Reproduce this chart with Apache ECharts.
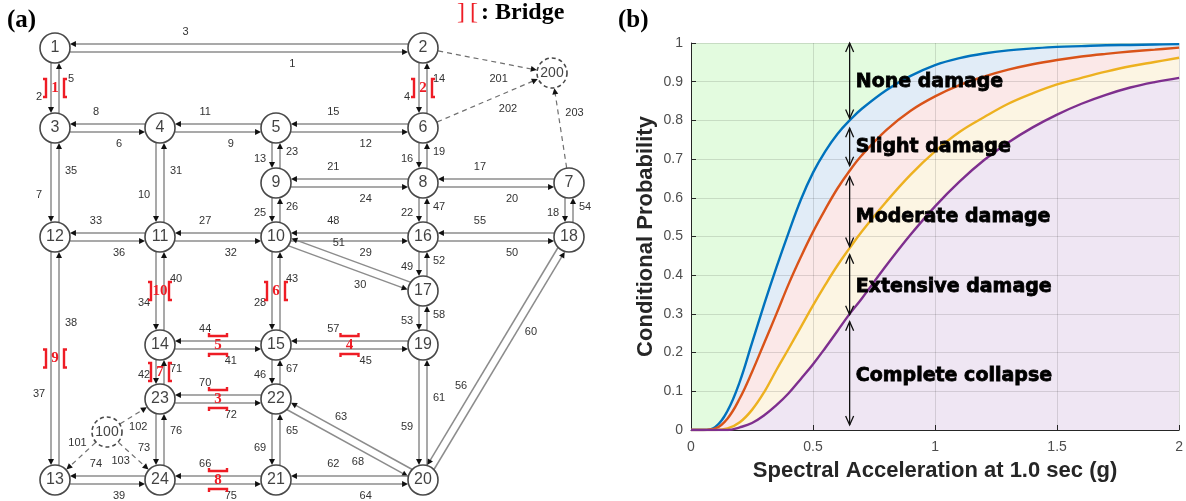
<!DOCTYPE html>
<html>
<head>
<meta charset="utf-8">
<title>Test network and bridge fragility curves</title>
<script src="https://cdn.jsdelivr.net/npm/echarts@6/dist/echarts.min.js"></script>
<style>
  html, body { margin: 0; padding: 0; background: #fff; }
  #chart { width: 1186px; height: 501px; }
</style>
</head>
<body>
<div id="chart"></div>
<script>
// ---- (a) network: [node id, x, y] in layout units ----
const nodes = [
  [1, 55, 48], [2, 423, 48], [200, 552, 73],
  [3, 55, 128], [4, 160, 128], [5, 276, 128], [6, 423, 128],
  [9, 276, 183], [8, 423, 183], [7, 569, 183],
  [12, 55, 237], [11, 160, 237], [10, 276, 237], [16, 423, 237], [18, 569, 237],
  [17, 423, 291],
  [14, 160, 345], [15, 276, 345], [19, 423, 345],
  [23, 160, 399], [22, 276, 399],
  [100, 107, 432],
  [13, 55, 480], [24, 160, 480], [21, 276, 480], [20, 423, 480]
]
const dummyNodes = [100, 200]

// directed links: [link id, from node, to node]
const links = [
  [1, 1, 2], [3, 2, 1], [2, 1, 3], [5, 3, 1], [4, 2, 6], [14, 6, 2],
  [6, 3, 4], [8, 4, 3], [9, 4, 5], [11, 5, 4], [12, 5, 6], [15, 6, 5],
  [7, 3, 12], [35, 12, 3], [10, 4, 11], [31, 11, 4], [13, 5, 9], [23, 9, 5],
  [16, 6, 8], [19, 8, 6], [24, 9, 8], [21, 8, 9], [20, 8, 7], [17, 7, 8],
  [25, 9, 10], [26, 10, 9], [22, 8, 16], [47, 16, 8], [18, 7, 18], [54, 18, 7],
  [36, 12, 11], [33, 11, 12], [32, 11, 10], [27, 10, 11], [29, 10, 16], [48, 16, 10],
  [50, 16, 18], [55, 18, 16], [30, 10, 17], [51, 17, 10], [49, 16, 17], [52, 17, 16],
  [37, 12, 13], [38, 13, 12], [34, 11, 14], [40, 14, 11], [28, 10, 15], [43, 15, 10],
  [53, 17, 19], [58, 19, 17], [41, 14, 15], [44, 15, 14], [45, 15, 19], [57, 19, 15],
  [42, 14, 23], [71, 23, 14], [46, 15, 22], [67, 22, 15], [59, 19, 20], [61, 20, 19],
  [72, 23, 22], [70, 22, 23], [68, 22, 20], [63, 20, 22], [56, 18, 20], [60, 20, 18],
  [73, 23, 24], [76, 24, 23], [69, 22, 21], [65, 21, 22],
  [39, 13, 24], [74, 24, 13], [75, 24, 21], [66, 21, 24], [64, 21, 20], [62, 20, 21]
]
// dummy (dashed) links to origin/destination nodes
const dummyLinks = [[201, 2, 200], [202, 6, 200], [203, 7, 200], [101, 100, 13], [102, 100, 23], [103, 100, 24]]
// bridges: [bridge no, node a, node b]
const bridges = [[1, 1, 3], [2, 2, 6], [3, 23, 22], [4, 15, 19], [5, 14, 15], [6, 10, 15], [7, 14, 23], [8, 24, 21], [9, 12, 13], [10, 11, 14]]

// ---- (b) fragility curves ----
const sa = [0, 0.05, 0.1, 0.15, 0.2, 0.25, 0.3, 0.35, 0.4, 0.45, 0.5, 0.55, 0.6, 0.65, 0.7, 0.8, 0.9, 1.0, 1.1, 1.2, 1.3, 1.4, 1.5, 1.6, 1.7, 1.8, 1.9, 2.0]
const pSlight = [0, 0, 0.008, 0.05, 0.125, 0.225, 0.325, 0.42, 0.51, 0.595, 0.665, 0.72, 0.765, 0.8, 0.83, 0.878, 0.915, 0.943, 0.961, 0.973, 0.981, 0.986, 0.99, 0.992, 0.994, 0.995, 0.996, 0.997]
const pModerate = [0, 0, 0.004, 0.03, 0.082, 0.15, 0.225, 0.3, 0.377, 0.447, 0.512, 0.57, 0.624, 0.67, 0.71, 0.775, 0.825, 0.862, 0.891, 0.913, 0.931, 0.945, 0.956, 0.965, 0.972, 0.978, 0.983, 0.988]
const pExtensive = [0, 0, 0, 0.004, 0.02, 0.052, 0.098, 0.155, 0.21, 0.266, 0.322, 0.375, 0.425, 0.47, 0.513, 0.59, 0.66, 0.72, 0.77, 0.808, 0.843, 0.87, 0.893, 0.91, 0.926, 0.94, 0.951, 0.962]
const pComplete = [0, 0, 0, 0, 0.007, 0.018, 0.038, 0.064, 0.095, 0.132, 0.17, 0.212, 0.256, 0.3, 0.34, 0.425, 0.505, 0.578, 0.642, 0.697, 0.743, 0.782, 0.815, 0.843, 0.866, 0.885, 0.899, 0.91]

// damage state annotations
const stateNames = ['None damage', 'Slight damage', 'Moderate damage', 'Extensive damage', 'Complete collapse']
const arrowFrom = [0.805, 0.683, 0.474, 0.298, 0.013]
const arrowTo = [1.0, 0.78, 0.655, 0.453, 0.28]
const labelY = [0.9, 0.73, 0.55, 0.37, 0.14]
const arrowX = 0.65
const labelX = 0.675

const ARIAL = 'Arial, "Liberation Sans", sans-serif'
const TIMES = '"Times New Roman", "Liberation Serif", serif'
const RED = '#ee1c25'
const curveColors = ['#0072BD', '#D95319', '#EDB120', '#7E2F8E']
const bandColors = ['#E1ECF7', '#FBE8E8', '#FCF5E3', '#EFE6F3']
// where a few dashed-link labels sit along their link
const labelAlong = { 101: 0.41, 102: 0.47, 103: 0.41 }

const nodePos = {}
nodes.forEach(n => { nodePos[n[0]] = [n[1], n[2]] })

function pairData(list) {
  return list.map((l, i) => {
    const a = nodePos[l[1]], b = nodePos[l[2]]
    return [a[0], a[1], b[0], b[1], i]
  })
}

const R = 15
function linkRenderer(list, dashed) {
  return function (params, api) {
    const p1 = api.coord([api.value(0), api.value(1)])
    const p2 = api.coord([api.value(2), api.value(3)])
    const id = list[api.value(4)][0]
    const dx = p2[0] - p1[0], dy = p2[1] - p1[1], L = Math.hypot(dx, dy)
    const ux = dx / L, uy = dy / L, nx = -uy, ny = ux
    const off = dashed ? 0 : 4
    const cut = Math.sqrt(R * R - off * off) + 0.5
    const sx = p1[0] + ux * cut + nx * off, sy = p1[1] + uy * cut + ny * off
    const ex = p2[0] - ux * cut + nx * off, ey = p2[1] - uy * cut + ny * off
    const ah = 6, aw = 3
    const bx = ex - ux * ah, by = ey - uy * ah
    let t = L < 60 ? 0.56 : (L > 200 ? 0.645 : 0.61)
    if (labelAlong[id] !== undefined) t = labelAlong[id]
    const lo = dashed ? (labelAlong[id] !== undefined ? 12 : 16) : off + 12
    const lx = p1[0] + dx * t + nx * lo, ly = p1[1] + dy * t + ny * lo
    return {
      type: 'group',
      children: [
        {
          type: 'line',
          shape: { x1: sx, y1: sy, x2: bx + ux, y2: by + uy },
          style: { stroke: dashed ? '#707070' : '#8c8c8c', lineWidth: dashed ? 1.2 : 1.5, lineDash: dashed ? [5, 4] : null }
        },
        {
          type: 'polygon',
          shape: { points: [[ex, ey], [bx + nx * aw, by + ny * aw], [bx - nx * aw, by - ny * aw]] },
          style: { fill: '#111' }
        },
        {
          type: 'text', x: lx, y: ly,
          style: { text: String(id), fontSize: 11, fontFamily: ARIAL, fill: '#333', align: 'center', verticalAlign: 'middle' }
        }
      ]
    }
  }
}

function renderBridge(params, api) {
  const p1 = api.coord([api.value(0), api.value(1)])
  const p2 = api.coord([api.value(2), api.value(3)])
  const num = bridges[api.value(4)][0]
  const mx = (p1[0] + p2[0]) / 2, my = (p1[1] + p2[1]) / 2
  const dx = p2[0] - p1[0], dy = p2[1] - p1[1], L = Math.hypot(dx, dy)
  const ux = dx / L, uy = dy / L, nx = -uy, ny = ux
  const h = 9, d = 9, s = 3
  const children = []
  ;[-1, 1].forEach(sd => {
    const cx = mx + nx * d * sd, cy = my + ny * d * sd
    const a = [cx - ux * h, cy - uy * h], b = [cx + ux * h, cy + uy * h]
    children.push({
      type: 'polyline',
      shape: { points: [[a[0] + nx * s * sd, a[1] + ny * s * sd], a, b, [b[0] + nx * s * sd, b[1] + ny * s * sd]] },
      style: { stroke: RED, lineWidth: 2.4, fill: 'none' }
    })
  })
  children.push({
    type: 'text', x: mx, y: my,
    style: { text: String(num), fontSize: 15, fontWeight: 'bold', fontFamily: TIMES, fill: RED, align: 'center', verticalAlign: 'middle' }
  })
  return { type: 'group', children }
}

function renderState(params, api) {
  const i = api.value(0)
  const top = api.coord([arrowX, arrowTo[i]])
  const bot = api.coord([arrowX, arrowFrom[i]])
  const lab = api.coord([labelX, labelY[i]])
  const hw = 4, hl = 9
  const st = { stroke: '#111', lineWidth: 1.3, fill: 'none' }
  return {
    type: 'group',
    children: [
      { type: 'line', shape: { x1: top[0], y1: top[1], x2: bot[0], y2: bot[1] }, style: st },
      { type: 'polyline', shape: { points: [[top[0] - hw, top[1] + hl], top, [top[0] + hw, top[1] + hl]] }, style: st },
      { type: 'polyline', shape: { points: [[bot[0] - hw, bot[1] - hl], bot, [bot[0] + hw, bot[1] - hl]] }, style: st },
      {
        type: 'text', x: lab[0], y: lab[1],
        style: {
          text: stateNames[i], fontSize: 19, fontWeight: 'bold', fontFamily: '"DejaVu Sans", sans-serif',
          fill: '#000', stroke: '#000', lineWidth: 0.8, align: 'left', verticalAlign: 'middle'
        }
      }
    ]
  }
}

const curves = [pSlight, pModerate, pExtensive, pComplete]
const series = []
curves.forEach((c, i) => {
  series.push({
    type: 'line', xAxisIndex: 0, yAxisIndex: 0, z: 2,
    data: sa.map((x, j) => [x, c[j]]),
    smooth: 0.4, symbol: 'none',
    lineStyle: { width: 0 },
    areaStyle: { color: bandColors[i], opacity: 1 }
  })
})
curves.forEach((c, i) => {
  series.push({
    type: 'line', xAxisIndex: 0, yAxisIndex: 0, z: 5,
    data: sa.map((x, j) => [x, c[j]]),
    smooth: 0.4, symbol: 'none',
    lineStyle: { width: 2.4, color: curveColors[i] }
  })
})
series.push({
  type: 'custom', xAxisIndex: 0, yAxisIndex: 0, z: 6, clip: false,
  data: stateNames.map((n, i) => [i]),
  renderItem: renderState
})
series.push({
  type: 'custom', xAxisIndex: 1, yAxisIndex: 1, z: 2, clip: false,
  data: pairData(links), renderItem: linkRenderer(links, false)
})
series.push({
  type: 'custom', xAxisIndex: 1, yAxisIndex: 1, z: 2, clip: false,
  data: pairData(dummyLinks), renderItem: linkRenderer(dummyLinks, true)
})
series.push({
  type: 'custom', xAxisIndex: 1, yAxisIndex: 1, z: 3, clip: false,
  data: pairData(bridges), renderItem: renderBridge
})
series.push({
  type: 'scatter', xAxisIndex: 1, yAxisIndex: 1, z: 4,
  symbol: 'circle', symbolSize: 30,
  data: nodes.map(n => {
    const dummy = dummyNodes.includes(n[0])
    return {
      value: [n[1], n[2], n[0]],
      itemStyle: { color: '#fff', borderColor: '#1a1a1a', borderWidth: 1.6, borderType: dummy ? [4, 3] : 'solid' },
      label: { fontSize: dummy ? 14 : 16 }
    }
  }),
  label: { show: true, position: 'inside', formatter: p => p.value[2], color: '#111', fontFamily: ARIAL, fontSize: 16 }
})

const chart = echarts.init(document.getElementById('chart'))
chart.setOption({
  animation: false,
  backgroundColor: '#fff',
  grid: [
    { left: 691, top: 43, width: 492, height: 387, show: true, backgroundColor: '#E3FBDF', borderWidth: 0 },
    { left: 0, top: 0, width: 620, height: 501 }
  ],
  xAxis: [
    {
      gridIndex: 0, type: 'value', min: 0, max: 2, interval: 0.5, z: 3,
      axisLine: { show: true, onZero: false, lineStyle: { color: '#262626', width: 1 } },
      axisTick: { show: true, inside: true, length: 5, lineStyle: { color: '#262626' } },
      axisLabel: { color: '#4d4d4d', fontSize: 14, fontFamily: ARIAL, margin: 10, formatter: v => String(v) },
      splitLine: { show: true, lineStyle: { color: 'rgba(0,0,0,0.12)', width: 1 } },
      name: 'Spectral Acceleration at 1.0 sec (g)', nameLocation: 'middle', nameGap: 30,
      nameTextStyle: { fontSize: 22, fontWeight: 'bold', fontFamily: ARIAL, color: '#262626' }
    },
    { gridIndex: 1, type: 'value', min: 0, max: 620, show: false }
  ],
  yAxis: [
    {
      gridIndex: 0, type: 'value', min: 0, max: 1, interval: 0.1, z: 3,
      axisLine: { show: true, lineStyle: { color: '#262626', width: 1 } },
      axisTick: { show: true, inside: true, length: 5, lineStyle: { color: '#262626' } },
      axisLabel: { color: '#4d4d4d', fontSize: 14, fontFamily: ARIAL, margin: 8, formatter: v => String(+v.toFixed(1)) },
      splitLine: { show: true, lineStyle: { color: 'rgba(0,0,0,0.12)', width: 1 } },
      name: 'Conditional Probability', nameLocation: 'middle', nameGap: 34, nameRotate: 90,
      nameTextStyle: { fontSize: 22, fontWeight: 'bold', fontFamily: ARIAL, color: '#262626' }
    },
    { gridIndex: 1, type: 'value', min: 0, max: 501, inverse: true, show: false }
  ],
  graphic: [
    { type: 'text', x: 7, y: 21, style: { text: '(a)', fontSize: 25, fontWeight: 'bold', fontFamily: TIMES, fill: '#000', verticalAlign: 'middle' } },
    { type: 'text', x: 618, y: 21, style: { text: '(b)', fontSize: 25, fontWeight: 'bold', fontFamily: TIMES, fill: '#000', verticalAlign: 'middle' } },
    { type: 'text', x: 461, y: 13, style: { text: ']', fontSize: 24, fontFamily: TIMES, fill: RED, align: 'center', verticalAlign: 'middle' } },
    { type: 'text', x: 474, y: 13, style: { text: '[', fontSize: 24, fontFamily: TIMES, fill: RED, align: 'center', verticalAlign: 'middle' } },
    { type: 'text', x: 481, y: 13, style: { text: ': Bridge', fontSize: 24, fontWeight: 'bold', fontFamily: TIMES, fill: '#000', verticalAlign: 'middle' } }
  ],
  series
})
</script>
</body>
</html>
